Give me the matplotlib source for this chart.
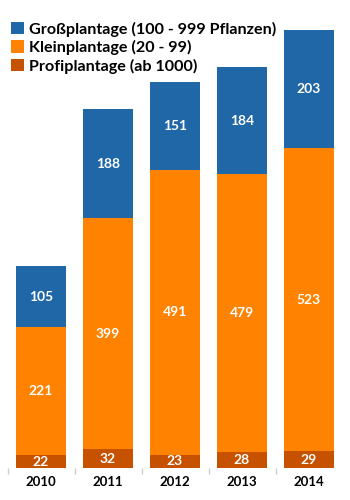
import numpy as np
import matplotlib.pyplot as plt

# Plantagen nach Größe, 2010 - 2014
years = ['2010', '2011', '2012', '2013', '2014']
profi = np.array([22, 32, 23, 28, 29])
klein = np.array([221, 399, 491, 479, 523])
gross = np.array([105, 188, 151, 184, 203])

c_gross = '#1f67a7'
c_klein = '#ff8200'
c_profi = '#c65200'

plt.rcParams['font.family'] = ['Lato', 'DejaVu Sans']

fig = plt.figure(figsize=(3.5, 5), dpi=100)
ax = fig.add_axes([7.5 / 350, 32 / 500, 335 / 350, 464 / 500])

x = np.arange(len(years))
w = 0.75

b1 = ax.bar(x, profi, w, color=c_profi, label='Profiplantage (ab 1000)')
b2 = ax.bar(x, klein, w, bottom=profi, color=c_klein, label='Kleinplantage (20 - 99)')
b3 = ax.bar(x, gross, w, bottom=profi + klein, color=c_gross,
            label='Großplantage (100 - 999 Pflanzen)')

# Werte mittig in die Segmente schreiben
for bottoms, vals in [(np.zeros(5), profi), (profi, klein), (profi + klein, gross)]:
    for xi, b, v in zip(x, bottoms, vals):
        ax.text(xi, b + v / 2, str(v), ha='center', va='center',
                color='white', fontsize=10, fontweight='bold')

ax.set_xlim(-0.5, 4.5)
ax.set_ylim(0, 800)
for s in ax.spines.values():
    s.set_visible(False)
ax.set_yticks([])
ax.set_xticks(x)
ax.set_xticklabels(years, fontsize=9.5, fontweight='bold')
ax.tick_params(axis='x', length=0, pad=6)
ax.set_xticks(np.arange(-0.5, 4.0, 1), minor=True)
ax.tick_params(axis='x', which='minor', length=4, color='#cccccc', width=1)

handles = [b3, b2, b1]
ax.legend(handles, [h.get_label() for h in handles], loc='upper left',
          bbox_to_anchor=(5 / 350, 1 - 15 / 500), bbox_transform=fig.transFigure,
          frameon=False, handlelength=0.8, handleheight=0.8,
          handletextpad=0.3, labelspacing=0.22, borderaxespad=0, borderpad=0.4,
          prop={'weight': 'bold', 'size': 11.6})

fig.savefig('out.png', dpi=100)
